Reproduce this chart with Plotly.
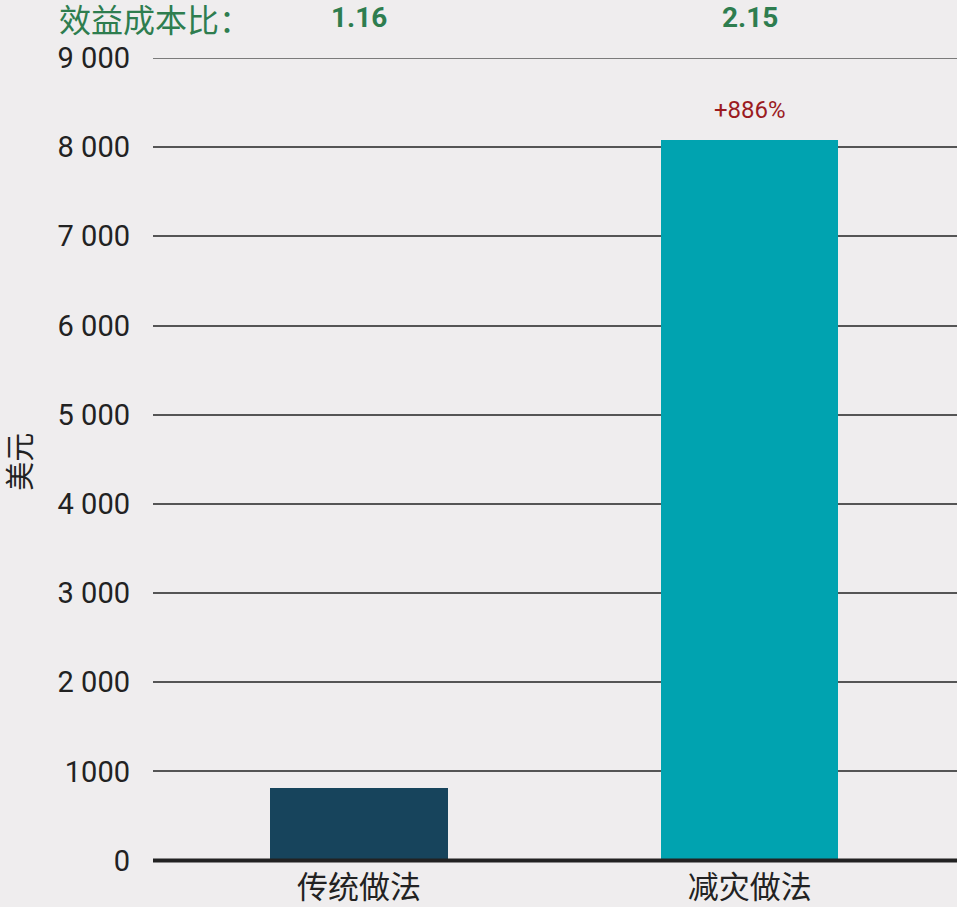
import plotly.graph_objects as go

categories = ["传统做法", "减灾做法"]
values = [815, 8085]
bar_colors = ["#17445c", "#00a3b0"]
ratios = ["1.16", "2.15"]
change_label = "+886%"
tick_vals = [0, 1000, 2000, 3000, 4000, 5000, 6000, 7000, 8000, 9000]
tick_text = ["0", "1000", "2 000", "3 000", "4 000", "5 000", "6 000", "7 000", "8 000", "9 000"]

BG = "#efedee"
NUM_FONT = "Roboto, Arial"
CJK_FONT = "Noto Sans CJK SC"

fig = go.Figure()
fig.add_trace(go.Bar(
    x=[0, 1], y=values, marker=dict(color=bar_colors, line=dict(width=0)),
    width=0.453, hoverinfo="skip", showlegend=False,
))

HDR_Y = 1 + 40 / 806
annotations = [
    dict(text="效益成本比：", xref="paper", yref="paper", x=-0.12, y=HDR_Y,
         xanchor="left", yanchor="middle", showarrow=False,
         font=dict(family=CJK_FONT, size=32, color="#2e7d4f")),
]
for i, r in enumerate(ratios):
    annotations.append(dict(text="<b>" + r + "</b>", xref="x", yref="paper", x=i, y=HDR_Y,
                            xanchor="center", yanchor="middle", showarrow=False,
                            font=dict(family=NUM_FONT, size=28, color="#2e7d4f")))
annotations.append(dict(text=change_label, xref="x", yref="y", x=1, y=values[1],
                        xanchor="center", yanchor="bottom", yshift=14, showarrow=False,
                        font=dict(family=NUM_FONT, size=24, color="#9b1b1f")))
annotations.append(dict(text="美元", xref="paper", yref="paper", x=-0.168, y=0.499,
                        xanchor="center", yanchor="middle", showarrow=False, textangle=-90,
                        font=dict(family=CJK_FONT, size=29, color="#222222")))

fig.update_layout(
    width=957, height=907,
    margin=dict(l=153, r=0, t=58, b=43, autoexpand=False),
    paper_bgcolor=BG, plot_bgcolor=BG,
    bargap=0,
    xaxis=dict(range=[-0.527, 1.53], tickvals=[0, 1], ticktext=categories,
               showgrid=False, zeroline=False, showline=False, ticks="",
               ticklabelstandoff=2, automargin=False,
               tickfont=dict(family=CJK_FONT, size=31, color="#222222")),
    yaxis=dict(range=[-39, 9000], tickvals=tick_vals, ticktext=tick_text,
               showgrid=True, gridcolor="#555555", gridwidth=1.5,
               zeroline=False, showline=False, ticks="", ticklabelstandoff=22,
               automargin=False,
               tickfont=dict(family=NUM_FONT, size=29, color="#222222")),
    annotations=annotations,
    shapes=[
        dict(type="line", xref="paper", yref="y", x0=0, x1=1, y0=tick_vals[-1], y1=tick_vals[-1],
             line=dict(color="#555555", width=1.5), layer="below"),
        dict(type="line", xref="paper", yref="y", x0=0, x1=1, y0=0, y1=0,
             line=dict(color="#222222", width=4), layer="above"),
    ],
)

fig.write_html("out.html", config={"displayModeBar": False},
               post_script="document.body.style.margin='0';document.body.style.background='%s';" % BG)
